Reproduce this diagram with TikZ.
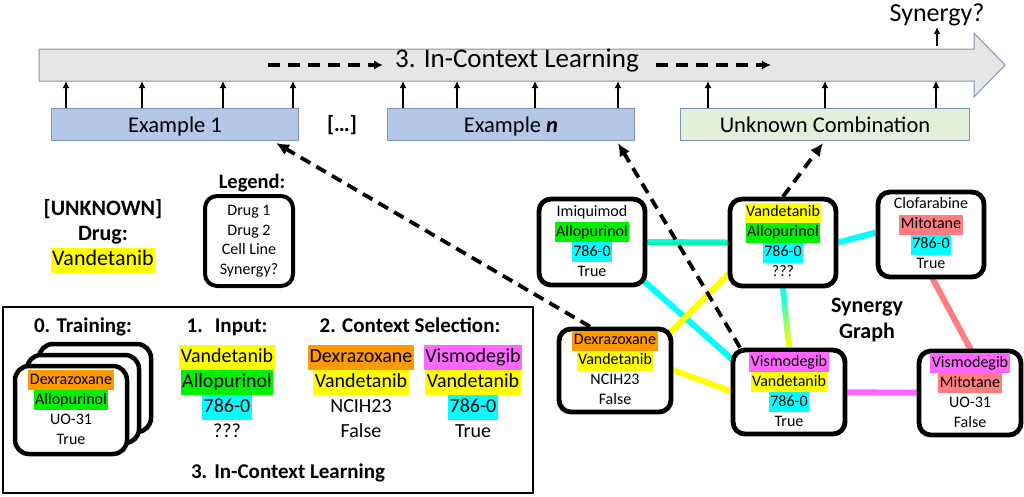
\documentclass[tikz,border=0pt]{standalone}
\usepackage{fontspec}
\setmainfont{Carlito}
\usetikzlibrary{arrows.meta,backgrounds}
\definecolor{drugyellow}{HTML}{FFFF00}
\definecolor{druggreen}{HTML}{00F000}
\definecolor{drugcyan}{HTML}{00FFFF}
\definecolor{drugorange}{HTML}{FF9900}
\definecolor{drugpink}{HTML}{FF66FF}
\definecolor{drugred}{HTML}{FF7C80}
\definecolor{arrowgray}{HTML}{E7E6E6}
\definecolor{arrowline}{HTML}{8497B0}
\definecolor{exblue}{HTML}{B4C7E7}
\definecolor{exgreen}{HTML}{E2F0D9}
\definecolor{exline}{HTML}{7F93B8}
\newcommand{\drug}[2]{{\setlength{\fboxsep}{0pt}\colorbox{#1}{\strut\hspace{1.5pt}#2\hspace{1.5pt}}}}

\begin{document}
\begin{tikzpicture}[x=1pt,y=-1pt]
\tikzset{
  gnode/.style={draw, line width=4.8pt, rounded corners=12pt, fill=white, minimum width=106pt, minimum height=86pt, inner sep=1pt, align=center, font=\fontsize{16}{20}\selectfont},
  card/.style={draw, line width=4.5pt, rounded corners=14pt, fill=white, minimum width=112pt, minimum height=88pt, inner sep=1pt, align=center, font=\fontsize{16}{20}\selectfont},
  exbox/.style={draw=exline, fill=exblue, line width=1pt, minimum width=247pt, minimum height=32pt, text depth=0pt, font=\fontsize{22.5}{27}\selectfont},
  colhead/.style={anchor=base, font=\bfseries\fontsize{21}{25}\selectfont},
  column/.style={align=center, inner sep=0pt, font=\fontsize{20}{25}\selectfont},
  uparr/.style={-{Latex[length=7pt,width=7pt]}, line width=2pt},
  ctxarr/.style={-{Latex[length=13pt,width=12pt]}, line width=3.8pt, dash pattern=on 11pt off 7pt},
  flowarr/.style={-{Latex[length=9pt,width=9pt]}, line width=3.2pt, dash pattern=on 12pt off 8pt},
  synedge/.style={line width=6pt}
}
\useasboundingbox (0,0) rectangle (1024,496);
\draw[fill=arrowgray, draw=arrowline, line width=1pt] (39,49) -- (974,49) -- (974,33) -- (1005,65) -- (974,97) -- (974,81) -- (39,81) -- cycle;
\coordinate (shaftbot) at (39,81);
\coordinate (shafttop) at (39,46);
\node[anchor=base, inner sep=0pt, font=\fontsize{27}{32}\selectfont] (icl) at (517,67) {3. In-Context Learning};
\draw[flowarr] ([xshift=-127pt,yshift=2pt]icl.base west) -- ([xshift=-12pt,yshift=2pt]icl.base west);
\draw[flowarr] ([xshift=17pt,yshift=2pt]icl.base east) -- ([xshift=132pt,yshift=2pt]icl.base east);
\node[anchor=base, inner sep=1.5pt, font=\fontsize{26}{31}\selectfont] (syn) at (937,21) {Synergy?};
\draw[uparr] (syn.south |- shafttop) -- (syn.south);

\node[exbox] (ex1) at (175,124.5) {Example 1};
\node[font=\bfseries\fontsize{22}{26}\selectfont] (dots) at (342,125) {[\dots]};
\node[exbox] (exn) at (511,124.5) {Example \textbf{\textit{n}}};
\node[exbox, fill=exgreen, minimum width=289pt] (unk) at (825,124.5) {Unknown Combination};
\foreach \dx in {15,91,172,242} \draw[uparr] ([xshift=\dx]ex1.north west) -- ([xshift=\dx]ex1.north west |- shaftbot);
\foreach \dx in {16,70,148,231} \draw[uparr] ([xshift=\dx]exn.north west) -- ([xshift=\dx]exn.north west |- shaftbot);
\foreach \dx in {28,145,256} \draw[uparr] ([xshift=\dx]unk.north west) -- ([xshift=\dx]unk.north west |- shaftbot);

\node[align=center, inner sep=0pt, font=\fontsize{22}{25}\selectfont] (unkdrug) at (103,235) {\textbf{\strut[UNKNOWN]}\\\textbf{\strut Drug:}\\\drug{drugyellow}{Vandetanib}};
\node[anchor=base, font=\bfseries\fontsize{20.5}{24}\selectfont] (legt) at (252,188) {Legend:};
\node[draw, line width=4pt, rounded corners=12pt, minimum width=88pt, minimum height=90pt, align=center, inner sep=1pt, font=\fontsize{16}{19.5}\selectfont] (leg) at (249,241) {\strut Drug 1\\\strut Drug 2\\\strut Cell Line\\\strut Synergy?};

\node[gnode] (g1) at (592,242) {\strut Imiquimod\\\drug{druggreen}{Allopurinol}\\\drug{drugcyan}{786-0}\\\strut True};
\node[gnode, minimum height=87pt] (g2) at (783,242.5) {\drug{drugyellow}{Vandetanib}\\\drug{druggreen}{Allopurinol}\\\drug{drugcyan}{786-0}\\\strut ???};
\node[gnode, minimum height=85pt] (g3) at (931,234.5) {\strut Clofarabine\\\drug{drugred}{Mitotane}\\\drug{drugcyan}{786-0}\\\strut True};
\node[gnode, minimum width=112pt, minimum height=83pt] (g4) at (615,370.5) {\drug{drugorange}{Dexrazoxane}\\\drug{drugyellow}{Vandetanib}\\\strut NCIH23\\\strut False};
\node[gnode, minimum width=112pt, minimum height=84pt] (g5) at (789,392) {\drug{drugpink}{Vismodegib}\\\drug{drugyellow}{Vandetanib}\\\drug{drugcyan}{786-0}\\\strut True};
\node[gnode, minimum width=102pt, minimum height=84pt] (g6) at (970,393) {\drug{drugpink}{Vismodegib}\\\drug{drugred}{Mitotane}\\\strut UO-31\\\strut False};
\node[align=center, inner sep=0pt, font=\bfseries\fontsize{22}{26}\selectfont] (sgl) at (867,320) {\strut Synergy\\\strut Graph};

\begin{scope}[on background layer]
\shade[top color=drugcyan, bottom color=druggreen!60!drugcyan] ([yshift=3pt]g1.east) -- ([yshift=3pt]g2.west) -- ([yshift=-3pt]g2.west) -- ([yshift=-3pt]g1.east) -- cycle;
\shade[top color=drugcyan, bottom color=drugyellow] ([xshift=-3pt]g2.south) -- ([xshift=3pt]g2.south) -- ([xshift=3pt]g5.north) -- ([xshift=-3pt]g5.north) -- cycle;
\draw[synedge, drugcyan] (g2.east) -- ([yshift=2pt]g3.west);
\draw[synedge, drugcyan] ([shift={(28,18)}]g1.center) -- ([shift={(-29,-8)}]g5.center);
\draw[synedge, drugyellow] ([shift={(35,-18)}]g4.center) -- ([shift={(-33,10)}]g2.center);
\draw[synedge, drugyellow] ([shift={(35,-9)}]g4.center) -- ([shift={(-29,10)}]g5.center);
\draw[synedge, drugred] ([shift={(-14,15)}]g3.center) -- ([shift={(17,-13)}]g6.center);
\draw[synedge, drugpink] (g5) -- (g6);
\end{scope}

\draw[ctxarr] ([xshift=-25pt]g4.north) -- ([xshift=101pt,yshift=-2pt]ex1.south);
\draw[ctxarr] ([xshift=-49pt]g5.north) -- ([xshift=107pt,yshift=-2pt]exn.south);
\draw[ctxarr] (g2.north) -- ([xshift=-2pt,yshift=-2pt]unk.south);

\draw[line width=2pt] (3,307) rectangle (533,493);
\node[colhead] (h0) at (83,332) {0. Training:};
\node[colhead] (h1) at (227,332) {1.\hspace{12pt}Input:};
\node[colhead] (h2) at (410,332) {2. Context Selection:};
\node[colhead] (h3) at (288,478) {3.\hspace{7pt}In-Context Learning};
\node[card] (c3) at (95,388) {};
\node[card] (c2) at (83,399) {};
\node[card] (c1) at (71,410) {\drug{drugorange}{Dexrazoxane}\\\drug{druggreen}{Allopurinol}\\\strut UO-31\\\strut True};
\node[column] (inp) at (227,395) {\drug{drugyellow}{Vandetanib}\\\drug{druggreen}{Allopurinol}\\\drug{drugcyan}{786-0}\\\strut ???};
\node[column] (ctx1) at (361,395) {\drug{drugorange}{Dexrazoxane}\\\drug{drugyellow}{Vandetanib}\\\strut NCIH23\\\strut False};
\node[column] (ctx2) at (473,395) {\drug{drugpink}{Vismodegib}\\\drug{drugyellow}{Vandetanib}\\\drug{drugcyan}{786-0}\\\strut True};
\end{tikzpicture}
\end{document}
